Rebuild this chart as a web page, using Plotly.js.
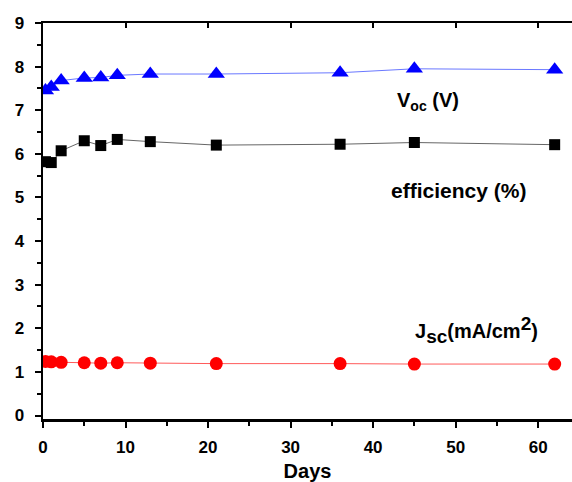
<!DOCTYPE html>
<html>
<head>
<meta charset="utf-8">
<script src="https://cdn.plot.ly/plotly-3.0.1.min.js"></script>
<style>html,body{margin:0;padding:0;background:#fff;}#chart{width:572px;height:482px;}</style>
</head>
<body>
<div id="chart"></div>
<script>
// Days of measurement
const days = [0.3, 1, 2.2, 5, 7, 9, 13, 21, 36, 45, 62];
// Open-circuit voltage Voc (V)
const voc = [7.45, 7.53, 7.68, 7.74, 7.75, 7.8, 7.83, 7.83, 7.86, 7.95, 7.93];
// Efficiency (%)
const efficiency = [5.82, 5.8, 6.07, 6.3, 6.19, 6.33, 6.28, 6.2, 6.22, 6.26, 6.21];
// Short-circuit current density Jsc (mA/cm2)
const jsc = [1.24, 1.23, 1.22, 1.21, 1.2, 1.21, 1.2, 1.19, 1.19, 1.18, 1.18];
// Tick values
const xTicks = [0, 10, 20, 30, 40, 50, 60];
const yTicks = [0, 1, 2, 3, 4, 5, 6, 7, 8, 9];
// Series labels
const labels = ['V<sub>oc</sub> (V)', 'efficiency (%)',
  'J<sub><span style="font-size:19px">sc</span></sub>(mA/cm<sup><span style="font-size:19px">2</span></sup>)'];

const FONT = 'Liberation Sans, Arial, sans-serif';
const xRange = [0, 64.1];
const yRange = [-0.08, 9];

const traces = [
  {x: days, y: voc, mode: 'lines+markers', type: 'scatter',
   line: {color: '#6a78ff', width: 1},
   marker: {symbol: 'triangle-up', size: 15, color: '#0000ff'}},
  {x: days, y: efficiency, mode: 'lines+markers', type: 'scatter',
   line: {color: '#666666', width: 1},
   marker: {symbol: 'square', size: 11, color: '#000000'}},
  {x: days, y: jsc, mode: 'lines+markers', type: 'scatter',
   line: {color: '#ff5a5a', width: 1},
   marker: {symbol: 'circle', size: 13, color: '#ff0000'}},
  {x: [], y: [], xaxis: 'x2', yaxis: 'y', type: 'scatter', showlegend: false}
];

const layout = {
  width: 572, height: 482,
  margin: {l: 43, r: 0, t: 23, b: 63},
  paper_bgcolor: '#ffffff', plot_bgcolor: '#ffffff',
  showlegend: false,
  font: {family: FONT, color: '#000', size: 17},
  xaxis: {
    range: xRange, tickvals: xTicks, ticktext: xTicks.map(String),
    showgrid: false, zeroline: false,
    showline: true, linecolor: '#000', linewidth: 2.5,
    ticks: 'outside', ticklen: 6, tickwidth: 2, tickcolor: '#000',
    ticklabelstandoff: 5,
    minor: {dtick: 5, tick0: 0, ticks: 'outside', ticklen: 4, tickwidth: 2, tickcolor: '#000', showgrid: false},
    tickfont: {family: FONT, size: 17, weight: 'bold'},
    title: {text: '<b>Days</b>', font: {family: FONT, size: 20}, standoff: 8}
  },
  xaxis2: {
    overlaying: 'x', side: 'top', range: xRange, tickvals: xTicks,
    showticklabels: false, showgrid: false, zeroline: false,
    showline: true, linecolor: '#000', linewidth: 2.5,
    ticks: 'inside', ticklen: 5, tickwidth: 2, tickcolor: '#000'
  },
  yaxis: {
    range: yRange, tickvals: yTicks, ticktext: yTicks.map(String),
    showgrid: false, zeroline: false,
    showline: true, linecolor: '#000', linewidth: 2.5,
    ticks: 'outside', ticklen: 6, tickwidth: 2, tickcolor: '#000',
    ticklabelstandoff: 7,
    minor: {dtick: 0.5, tick0: 0, ticks: 'outside', ticklen: 4, tickwidth: 2, tickcolor: '#000', showgrid: false},
    tickfont: {family: FONT, size: 17, weight: 'bold'}
  },
  annotations: [
    {text: '<b>' + labels[0] + '</b>', xref: 'x', yref: 'y', x: 42.6, y: 7.2,
     xanchor: 'left', yanchor: 'middle', showarrow: false, font: {family: FONT, size: 20}},
    {text: '<b>' + labels[1] + '</b>', xref: 'x', yref: 'y', x: 41.9, y: 5.17,
     xanchor: 'left', yanchor: 'middle', showarrow: false, font: {family: FONT, size: 21}},
    {text: '<b>' + labels[2] + '</b>', xref: 'x', yref: 'y', x: 44.8, y: 1.95,
     xanchor: 'left', yanchor: 'middle', showarrow: false, font: {family: FONT, size: 20}}
  ]
};

Plotly.newPlot('chart', traces, layout, {displayModeBar: false, staticPlot: true});
</script>
</body>
</html>
